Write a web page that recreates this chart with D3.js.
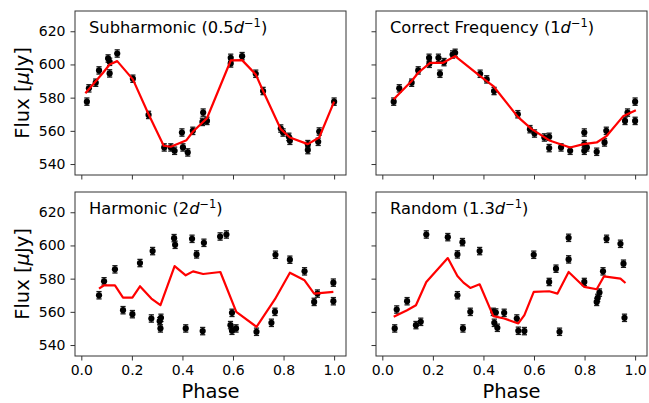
<!DOCTYPE html>
<html>
<head>
<meta charset="utf-8">
<script src="https://cdn.jsdelivr.net/npm/d3@7"></script>
<style>
  html, body { margin: 0; padding: 0; background: #fff; }
  svg { display: block; font-family: "DejaVu Sans", sans-serif; }
</style>
</head>
<body>
<svg id="chart" width="649" height="403"></svg>
<script>
// Folded light curves at four trial frequencies
const panelNames = ["Subharmonic (0.5", "Correct Frequency (1", "Harmonic (2", "Random (1.3"];

// Subharmonic fold
const subPhase = [0.022,0.030,0.057,0.070,0.106,0.112,0.112,0.142,0.204,0.266,0.328,0.354,0.369,0.398,0.402,0.421,0.441,0.479,0.482,0.497,0.591,0.591,0.636,0.690,0.719,0.789,0.798,0.821,0.825,0.896,0.896,0.937,0.941,1.000];
const subFlux  = [577.6,585.6,589.0,596.4,603.6,601.6,594.6,606.6,591.4,569.6,550.0,550.0,548.0,559.0,550.0,547.0,560.0,565.4,571.0,566.0,604.0,600.6,605.0,594.4,584.0,561.4,559.0,556.4,554.0,552.0,548.4,553.4,559.6,577.6];
const subModelPhase = [0.016,0.086,0.112,0.142,0.204,0.266,0.326,0.354,0.416,0.442,0.497,0.591,0.636,0.690,0.719,0.789,0.825,0.896,0.941,1.000];
const subModelFlux  = [582.6,595.0,600.0,602.0,591.0,570.0,551.0,550.4,554.4,559.6,567.6,602.4,602.6,594.0,584.0,561.0,556.0,552.0,556.0,577.6];

// Correct-frequency fold
const corPhase = [0.045,0.067,0.116,0.142,0.185,0.186,0.222,0.228,0.244,0.278,0.288,0.387,0.413,0.442,0.536,0.584,0.602,0.641,0.660,0.660,0.707,0.743,0.799,0.799,0.799,0.809,0.848,0.879,0.886,0.960,0.970,1.000,1.000];
const corFlux  = [577.6,585.6,589.0,596.4,604.0,600.4,604.0,594.4,601.4,606.0,607.0,594.4,591.0,584.0,570.0,561.0,558.4,556.0,556.4,549.6,550.0,548.0,559.0,552.0,548.0,550.0,547.4,553.0,560.0,566.0,571.0,577.6,566.0];
const corModelPhase = [0.045,0.116,0.142,0.189,0.241,0.288,0.387,0.439,0.536,0.591,0.664,0.743,0.796,0.848,0.888,0.954,1.003];
const corModelFlux  = [579.0,590.0,595.0,601.0,601.0,605.0,593.0,587.0,568.4,561.0,554.0,550.0,552.0,553.0,557.0,569.0,572.4];

// Harmonic fold
const harPhase = [0.070,0.090,0.133,0.165,0.202,0.232,0.277,0.282,0.310,0.315,0.313,0.367,0.371,0.413,0.438,0.456,0.480,0.485,0.549,0.574,0.596,0.590,0.596,0.612,0.693,0.752,0.766,0.768,0.825,0.883,0.921,0.934,0.997,0.997];
const harFlux  = [570.0,578.4,585.6,561.0,558.6,589.4,556.0,596.6,554.4,556.4,550.0,604.4,600.4,550.0,604.0,594.6,548.4,601.6,605.4,606.6,559.4,552.0,548.6,550.0,548.0,553.4,560.0,594.4,591.4,584.4,566.0,571.0,577.6,566.4];
const harModelPhase = [0.070,0.090,0.133,0.165,0.202,0.232,0.277,0.313,0.369,0.413,0.442,0.482,0.550,0.613,0.693,0.766,0.825,0.883,0.921,0.997];
const harModelFlux  = [574.0,576.0,576.0,568.6,568.6,575.4,568.0,564.0,587.6,582.0,584.4,582.8,584.0,560.0,551.0,567.6,583.6,579.0,571.0,572.0];

// Random-frequency fold
const ranPhase = [0.049,0.057,0.098,0.133,0.152,0.174,0.259,0.297,0.297,0.317,0.319,0.348,0.385,0.439,0.443,0.449,0.455,0.482,0.532,0.538,0.562,0.599,0.660,0.687,0.701,0.737,0.737,0.799,0.848,0.852,0.859,0.873,0.887,0.942,0.954,0.958];
const ranFlux  = [550.0,561.4,566.4,552.0,554.0,606.6,605.0,594.6,570.0,602.0,550.0,560.0,596.6,560.0,553.4,559.6,550.4,559.4,556.0,548.6,548.4,594.4,578.0,586.0,548.0,604.6,591.6,578.0,566.0,568.4,571.6,584.4,604.0,601.0,589.0,556.4];
const ranModelPhase = [0.045,0.098,0.133,0.174,0.259,0.297,0.321,0.348,0.385,0.439,0.482,0.538,0.562,0.599,0.660,0.693,0.737,0.799,0.848,0.877,0.942,0.962];
const ranModelFlux  = [557.0,561.0,564.0,578.0,592.4,581.6,577.6,574.4,576.6,557.4,556.0,553.0,558.0,572.0,572.4,571.0,584.0,575.0,573.6,581.4,580.0,577.4];

const fluxErr = 2.2;
const xTicks = [0, 0.2, 0.4, 0.6, 0.8, 1.0];
const yTicks = [540, 560, 580, 600, 620];

const panels = [
  { title: panelNames[0], phase: subPhase, flux: subFlux, mPhase: subModelPhase, mFlux: subModelFlux },
  { title: panelNames[1], phase: corPhase, flux: corFlux, mPhase: corModelPhase, mFlux: corModelFlux },
  { title: panelNames[2], phase: harPhase, flux: harFlux, mPhase: harModelPhase, mFlux: harModelFlux },
  { title: panelNames[3], phase: ranPhase, flux: ranFlux, mPhase: ranModelPhase, mFlux: ranModelFlux }
];

const svg = d3.select("#chart");
svg.append("rect").attr("width", 649).attr("height", 403).attr("fill", "#fff");

const colLeft = [75, 376], colWidth = 271;
const rowTop = [11, 192], rowHeight = 164;
const spineColor = "#333";

panels.forEach((p, i) => {
  const col = i % 2, row = Math.floor(i / 2);
  const x0 = colLeft[col], y0 = rowTop[row];
  const x = d3.scaleLinear().domain([-0.025, 1.047]).range([x0, x0 + colWidth]);
  const y = d3.scaleLinear().domain([533.4, 632.2]).range([y0 + rowHeight, y0]);
  const g = svg.append("g");

  // axes
  const xAxis = d3.axisBottom(x).tickValues(xTicks).tickSize(4.5).tickSizeOuter(0).tickPadding(5)
    .tickFormat(row === 1 ? d3.format(".1f") : () => "");
  const yAxis = d3.axisLeft(y).tickValues(yTicks).tickSize(4.5).tickSizeOuter(0).tickPadding(5)
    .tickFormat(col === 0 ? d3.format("d") : () => "");
  [g.append("g").attr("transform", `translate(0,${y0 + rowHeight})`).call(xAxis),
   g.append("g").attr("transform", `translate(${x0},0)`).call(yAxis)].forEach(ax => {
    ax.select(".domain").remove();
    ax.selectAll(".tick line").attr("stroke", spineColor).attr("stroke-width", 1);
    ax.selectAll(".tick text").attr("fill", "#000").attr("font-size", 14)
      .attr("font-family", "DejaVu Sans");
  });

  // error bars
  const eb = g.append("g").attr("stroke", "#1a1a1a").attr("stroke-width", 1.3);
  p.phase.forEach((ph, k) => {
    const cx = x(ph), v = p.flux[k];
    eb.append("line").attr("x1", cx).attr("x2", cx).attr("y1", y(v - fluxErr)).attr("y2", y(v + fluxErr));
    eb.append("line").attr("x1", cx - 2.6).attr("x2", cx + 2.6).attr("y1", y(v - fluxErr)).attr("y2", y(v - fluxErr));
    eb.append("line").attr("x1", cx - 2.6).attr("x2", cx + 2.6).attr("y1", y(v + fluxErr)).attr("y2", y(v + fluxErr));
  });
  g.append("g").selectAll("circle").data(p.phase).join("circle")
    .attr("cx", d => x(d)).attr("cy", (d, k) => y(p.flux[k])).attr("r", 3.1).attr("fill", "#000");

  // model curve
  const line = d3.line().x(d => x(d[0])).y(d => y(d[1]));
  g.append("path").datum(p.mPhase.map((ph, k) => [ph, p.mFlux[k]]))
    .attr("d", line).attr("fill", "none").attr("stroke", "#ff0000").attr("stroke-width", 2.2)
    .attr("stroke-linejoin", "round");

  // frame
  g.append("rect").attr("x", x0).attr("y", y0).attr("width", colWidth).attr("height", rowHeight)
    .attr("fill", "none").attr("stroke", spineColor).attr("stroke-width", 1);

  // panel title with italic d and superscript -1
  const t = g.append("text").attr("x", x0 + 14).attr("y", y0 + 22).attr("font-size", 16.3).attr("fill", "#000");
  t.append("tspan").text(p.title);
  t.append("tspan").attr("font-style", "italic").text("d");
  t.append("tspan").attr("font-size", 11.4).attr("dy", -6).text("\u22121");
  t.append("tspan").attr("dy", 6).text(")");

  // axis labels
  if (row === 1) {
    svg.append("text").attr("x", x0 + colWidth / 2).attr("y", 397.5).attr("text-anchor", "middle")
      .attr("font-size", 19.5).text("Phase");
  }
  if (col === 0) {
    const yl = svg.append("text").attr("transform", `translate(29,${y0 + rowHeight / 2}) rotate(-90)`)
      .attr("text-anchor", "middle").attr("font-size", 19.5);
    yl.append("tspan").text("Flux [");
    yl.append("tspan").attr("font-style", "italic").text("\u03bc");
    yl.append("tspan").text("Jy]");
  }
});
</script>
</body>
</html>
